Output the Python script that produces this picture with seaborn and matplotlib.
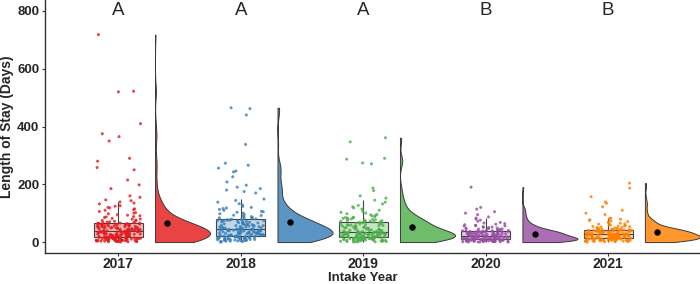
import numpy as np
import pandas as pd
import matplotlib
matplotlib.use('Agg')
import matplotlib.pyplot as plt
import matplotlib.colors as mcolors
import seaborn as sns

# ---- data ----
years = ['2017', '2018', '2019', '2020', '2021']
letters = ['A', 'A', 'A', 'B', 'B']
colors = ['#E41A1C', '#377EB8', '#4DAF4A', '#984EA3', '#FF7F00']
y_ticks = [0, 200, 400, 600, 800]

los_2017 = [0, 1, 1, 2, 2, 2, 3, 3, 4, 4, 4, 5, 5, 6, 6, 6, 7, 7, 8, 8, 8, 9, 9, 10, 10,
            10, 11, 11, 12, 12, 13, 13, 13, 14, 14, 15, 15, 15, 16, 16, 16, 17, 17, 17, 3, 5, 7, 9, 11, 14,
            18, 18, 19, 19, 20, 21, 21, 22, 22, 23, 23, 24, 25, 25, 26, 26, 27, 28, 28, 29, 29, 30, 31, 31,
            32, 33, 33, 34, 34, 35, 36, 36, 37, 37, 38, 38, 39, 39, 40, 40, 20, 24, 27, 30, 32, 35, 38, 22, 26, 29,
            41, 42, 42, 43, 44, 44, 45, 46, 47, 47, 48, 49, 50, 51, 52, 52, 53, 54, 55, 56, 57, 58, 58, 59,
            60, 61, 62, 62, 63, 64, 65, 66, 66, 67, 68, 69, 43, 46, 49, 51, 54, 56, 59, 61, 64, 67, 45, 50, 55, 60,
            70, 72, 74, 75, 76, 79, 80, 82, 85, 87, 88, 91, 93, 95, 98, 100, 102, 106, 110, 112, 115, 118,
            120, 124, 126, 132, 135, 139, 143, 146,
            155, 160, 185, 198, 215, 250, 258, 280, 290, 350, 365, 375, 410, 520, 522, 718, 2, 6, 12, 19]
los_2018 = [0, 1, 2, 2, 3, 4, 5, 5, 6, 7, 7, 8, 9, 9, 10, 11, 11, 12, 13, 13, 14, 14, 15, 16, 16, 17,
            17, 18, 18, 19, 19, 20, 20, 21, 21, 22, 22, 3, 6, 9, 12, 15, 18, 21, 8,
            23, 23, 24, 25, 25, 26, 27, 27, 28, 29, 29, 30, 31, 31, 32, 33, 33, 34, 35, 35, 36, 37, 37, 38,
            39, 39, 40, 41, 41, 42, 43, 43, 44, 45, 45, 24, 28, 32, 36, 40, 44, 26, 30, 34, 38,
            46, 47, 47, 49, 50, 51, 52, 54, 55, 56, 57, 58, 60, 61, 62, 63, 64, 66, 67, 68, 69, 70, 72, 73,
            74, 75, 76, 77, 78, 79, 80, 48, 53, 57, 60, 65, 71, 76, 50, 58, 63, 69, 74, 52, 79,
            82, 84, 85, 86, 88, 90, 92, 93, 95, 98, 100, 103, 105, 106, 110, 113, 116, 118, 120, 124, 128,
            133, 138, 144, 149,
            170, 175, 180, 185, 190, 197, 208, 226, 243, 246, 256, 266, 273, 338, 440, 462, 465]
los_2019 = [0, 1, 1, 2, 3, 3, 4, 5, 5, 6, 6, 7, 8, 8, 9, 9, 10, 10, 11, 11, 12, 12, 13, 13, 14, 14,
            15, 15, 16, 16, 17, 17, 2, 4, 7, 10, 12, 14, 16, 1, 5, 9, 13, 6, 11,
            18, 18, 19, 19, 20, 20, 21, 22, 22, 23, 23, 24, 24, 25, 25, 26, 27, 27, 28, 28, 29, 29, 30, 30,
            31, 31, 32, 33, 33, 34, 34, 35, 35, 19, 21, 24, 26, 28, 30, 32, 34, 20, 23, 27, 31,
            36, 37, 38, 39, 40, 41, 42, 43, 45, 46, 47, 48, 50, 51, 52, 54, 55, 56, 58, 59, 60, 62, 63, 64,
            66, 67, 68, 70, 71, 72, 73, 38, 44, 49, 53, 57, 61, 65, 69, 40, 47, 55, 63, 72, 42,
            74, 75, 76, 78, 79, 80, 82, 83, 85, 86, 88, 90, 92, 94, 96, 98, 100, 103, 106, 110, 114, 118,
            122, 127, 132, 138, 145, 152, 77, 84,
            160, 178, 187, 271, 274, 287, 290, 347, 361]
los_2020 = [0, 0, 1, 1, 1, 2, 2, 2, 3, 3, 3, 4, 4, 4, 5, 5, 5, 6, 6, 6, 7, 7, 7, 8, 8, 8, 9, 9, 9,
            10, 10, 10, 1, 3, 5, 7, 9, 2, 4, 6, 8, 0, 10,
            11, 11, 12, 12, 13, 13, 14, 14, 15, 15, 16, 16, 17, 17, 18, 18, 19, 19, 20, 20, 21, 21, 22, 22,
            23, 23, 24, 24, 12, 14, 16, 18, 20, 22, 13, 17, 21, 15,
            25, 26, 26, 27, 28, 28, 29, 30, 30, 31, 32, 32, 33, 34, 34, 35, 36, 36, 37, 38, 38, 39, 40, 40,
            41, 27, 29, 31, 33, 35, 37, 39, 26, 30, 34, 38, 41,
            42, 43, 44, 45, 46, 47, 48, 49, 50, 51, 52, 53, 55, 56, 57, 58, 60, 62, 64, 66, 68, 72, 76, 80,
            83, 87,
            95, 100, 105, 114, 120, 190]
los_2021 = [0, 1, 1, 2, 2, 3, 3, 4, 4, 5, 5, 5, 6, 6, 7, 7, 7, 8, 8, 9, 9, 9, 10, 10, 10, 11, 11, 11,
            12, 12, 12, 13, 13, 13, 14, 14, 14, 2, 4, 6, 8, 10, 12, 3,
            15, 15, 16, 16, 17, 17, 18, 18, 19, 19, 20, 20, 21, 21, 22, 22, 23, 23, 24, 24, 25, 25, 26, 26,
            27, 27, 28, 28, 16, 18, 20, 22, 24, 26, 17, 19, 21, 23, 25, 27,
            29, 30, 30, 31, 32, 32, 33, 34, 34, 35, 36, 36, 37, 38, 38, 39, 40, 40, 41, 42, 42, 43, 44, 44,
            45, 31, 33, 35, 37, 39, 41, 43, 45, 30, 34, 38, 42, 36, 40, 44,
            46, 47, 48, 49, 50, 51, 52, 53, 54, 55, 56, 57, 58, 60, 62, 63, 65, 67, 69, 71, 73, 75, 77, 79,
            81, 83,
            95, 100, 110, 122, 134, 139, 157, 187, 204]

all_los = [los_2017, los_2018, los_2019, los_2020, los_2021]
df = pd.DataFrame({
    'year': np.repeat(years, [len(v) for v in all_los]),
    'los': np.concatenate(all_los),
})


def mix(c, a):
    # blend a colour with white
    rgb = np.array(mcolors.to_rgb(c))
    return tuple(a * rgb + (1 - a))


violin_cols = [mix(c, 0.82) for c in colors]
box_cols = [mix(c, 0.32) for c in colors]

sns.set_style('white')
plt.rcParams['font.family'] = ['Liberation Sans', 'DejaVu Sans']

fig, ax = plt.subplots(figsize=(7, 2.84), dpi=100)
fig.subplots_adjust(left=0.064, right=1.0, bottom=0.109, top=1.0)

# half violins, shifted to the right of each box
sns.violinplot(data=df, x='year', y='los', hue='year', palette=violin_cols, order=years,
               cut=0, inner=None, density_norm='width', width=0.9, linewidth=0.7, bw_adjust=0.8,
               linecolor='#3a3a3a', saturation=1, legend=False, ax=ax)
for coll in list(ax.collections):
    for p in coll.get_paths():
        v = p.vertices.copy()
        centre = (v[:, 0].max() + v[:, 0].min()) / 2
        v[:, 0] = np.maximum(v[:, 0], centre) + 0.3
        coll.set_verts([v])
        break

# boxes
sns.boxplot(data=df, x='year', y='los', hue='year', palette=box_cols, order=years,
            width=0.4, showfliers=False, linewidth=0.8, linecolor='#444444', saturation=1,
            whis=1.5, legend=False, ax=ax, capprops={'visible': False})

# raw points
np.random.seed(3)
sns.stripplot(data=df, x='year', y='los', hue='year', palette=colors, order=years,
              jitter=0.19, size=2.2, alpha=0.8, linewidth=0, legend=False, ax=ax, zorder=3)

# group means
means = df.groupby('year')['los'].mean().reindex(years)
ax.scatter(np.arange(len(years)) + 0.4, means.values, s=13, color='black', zorder=5)

# significance letters
for i, lab in enumerate(letters):
    ax.text(i, 800, lab, ha='center', va='center', fontsize=13.5)

ax.set_xlim(-0.6, 4.75)
ax.set_ylim(-38, 838)
ax.set_xticks(range(len(years)), years, fontweight='bold', fontsize=10)
ax.set_yticks(y_ticks, [str(t) for t in y_ticks], fontweight='bold', fontsize=9.5)
for s in ['top', 'right']:
    ax.spines[s].set_visible(False)
for s in ['left', 'bottom']:
    ax.spines[s].set_color('#333333')
    ax.spines[s].set_linewidth(1.0)
ax.tick_params(axis='both', direction='out', length=2.5, width=0.8, color='#333333',
               bottom=True, left=True)
ax.tick_params(axis='x', pad=0)
ax.tick_params(axis='y', pad=1.5)
ax.set_xlabel('Intake Year', fontsize=9.5, fontweight='bold')
ax.set_ylabel('Length of Stay (Days)', fontsize=10, fontweight='bold')
ax.xaxis.set_label_coords(0.486, -0.073)
ax.yaxis.set_label_coords(-0.047, 0.5)

fig.savefig('out.png', dpi=100)
